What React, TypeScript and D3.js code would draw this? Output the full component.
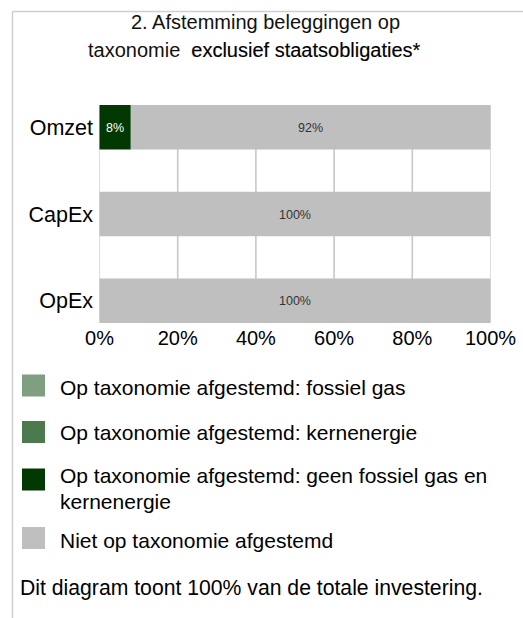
import React from "react";
import * as d3 from "d3";

const categories = ["Omzet", "CapEx", "OpEx"];
const fossielGas = [0, 0, 0];
const kernenergie = [0, 0, 0];
const geenFossielGas = [8, 0, 0];
const nietAfgestemd = [92, 100, 100];
const xTicks = [0, 20, 40, 60, 80, 100];

const seriesNames = [
  "Op taxonomie afgestemd: fossiel gas",
  "Op taxonomie afgestemd: kernenergie",
  "Op taxonomie afgestemd: geen fossiel gas en kernenergie",
  "Niet op taxonomie afgestemd",
];
const seriesKeys = ["fossiel", "kern", "geen", "niet"];
const colors = ["#7f9f80", "#4c7a4e", "#023802", "#bfbfbf"];
const labelColors = ["#ffffff", "#ffffff", "#ffffff", "#333333"];

const FONT = "'Liberation Sans', Arial, Helvetica, sans-serif";

export default function App() {
  const rows = categories.map((c, i) => ({
    cat: c,
    fossiel: fossielGas[i],
    kern: kernenergie[i],
    geen: geenFossielGas[i],
    niet: nietAfgestemd[i],
  }));
  const stacked = d3.stack<any>().keys(seriesKeys)(rows);

  const x = d3.scaleLinear().domain([0, 100]).range([99.5, 490.5]);
  const y = d3
    .scaleBand<string>()
    .domain(categories)
    .range([105, 323])
    .paddingInner(0.487)
    .paddingOuter(0);

  const legendItems = [
    { sq: 374.5, lines: ["Op taxonomie afgestemd: fossiel gas"], base: 394.5 },
    { sq: 421, lines: ["Op taxonomie afgestemd: kernenergie"], base: 440 },
    {
      sq: 468.5,
      lines: ["Op taxonomie afgestemd: geen fossiel gas en", "kernenergie"],
      base: 482.5,
    },
    { sq: 527, lines: ["Niet op taxonomie afgestemd"], base: 548 },
  ];

  return (
    <div style={{ position: "absolute", left: 0, top: 0 }}>
      <svg width={523} height={618} style={{ display: "block" }} fontFamily={FONT}>
        <rect x={0} y={0} width={523} height={618} fill="#ffffff" />
        {/* frame */}
        <line x1={12.5} y1={11.5} x2={523} y2={11.5} stroke="#cfcfcf" strokeWidth={1.5} />
        <line x1={12.5} y1={11.5} x2={12.5} y2={618} stroke="#cfcfcf" strokeWidth={1.5} />

        {/* title */}
        <text x={265.5} y={29} textAnchor="middle" fontSize={20} fill="#111">
          2. Afstemming beleggingen op
        </text>
        <text x={88} y={57} fontSize={20} fill="#111">
          taxonomie
          <tspan dx={11} fill="#000" fontSize={20} stroke="#000" strokeWidth={0.15}>
            exclusief staatsobligaties*
          </tspan>
        </text>

        {/* grid */}
        {xTicks.map((t) => (
          <line
            key={t}
            x1={x(t)}
            x2={x(t)}
            y1={y(categories[0])!}
            y2={y(categories[categories.length - 1])! + y.bandwidth()}
            stroke="#c8c8c8"
            strokeWidth={t === 0 || t === 100 ? 0.6 : 1.6}
          />
        ))}

        {/* bars */}
        {stacked.map((s, si) =>
          s.map((d, di) => {
            const v = d[1] - d[0];
            if (v <= 0) return null;
            const x0 = x(d[0]);
            const x1 = x(d[1]);
            const yy = y(categories[di])!;
            return (
              <g key={`${si}-${di}`}>
                <rect x={x0} y={yy} width={x1 - x0} height={y.bandwidth()} fill={colors[si]} />
                <text
                  x={(x0 + x1) / 2}
                  y={yy + y.bandwidth() / 2 + 4.5}
                  textAnchor="middle"
                  fontSize={12.5}
                  fill={labelColors[si]}
                >
                  {`${Math.round(v)}%`}
                </text>
              </g>
            );
          })
        )}

        {/* category labels */}
        {categories.map((c) => (
          <text
            key={c}
            x={93}
            y={y(c)! + y.bandwidth() / 2 + 7.5}
            textAnchor="end"
            fontSize={21.5}
            fill="#000"
          >
            {c}
          </text>
        ))}

        {/* x tick labels */}
        {xTicks.map((t) => (
          <text key={t} x={x(t)} y={345} textAnchor="middle" fontSize={20} fill="#000">
            {`${t}%`}
          </text>
        ))}

        {/* legend */}
        {legendItems.map((it, i) => (
          <g key={seriesNames[i]}>
            <rect x={22} y={it.sq} width={23} height={22} fill={colors[i]} />
            {it.lines.map((ln, li) => (
              <text key={li} x={60} y={it.base + li * 26} fontSize={21} fill="#000">
                {ln}
              </text>
            ))}
          </g>
        ))}

        {/* footer */}
        <text x={20} y={595} fontSize={21.2} fill="#000">
          Dit diagram toont 100% van de totale investering.
        </text>
      </svg>
    </div>
  );
}
